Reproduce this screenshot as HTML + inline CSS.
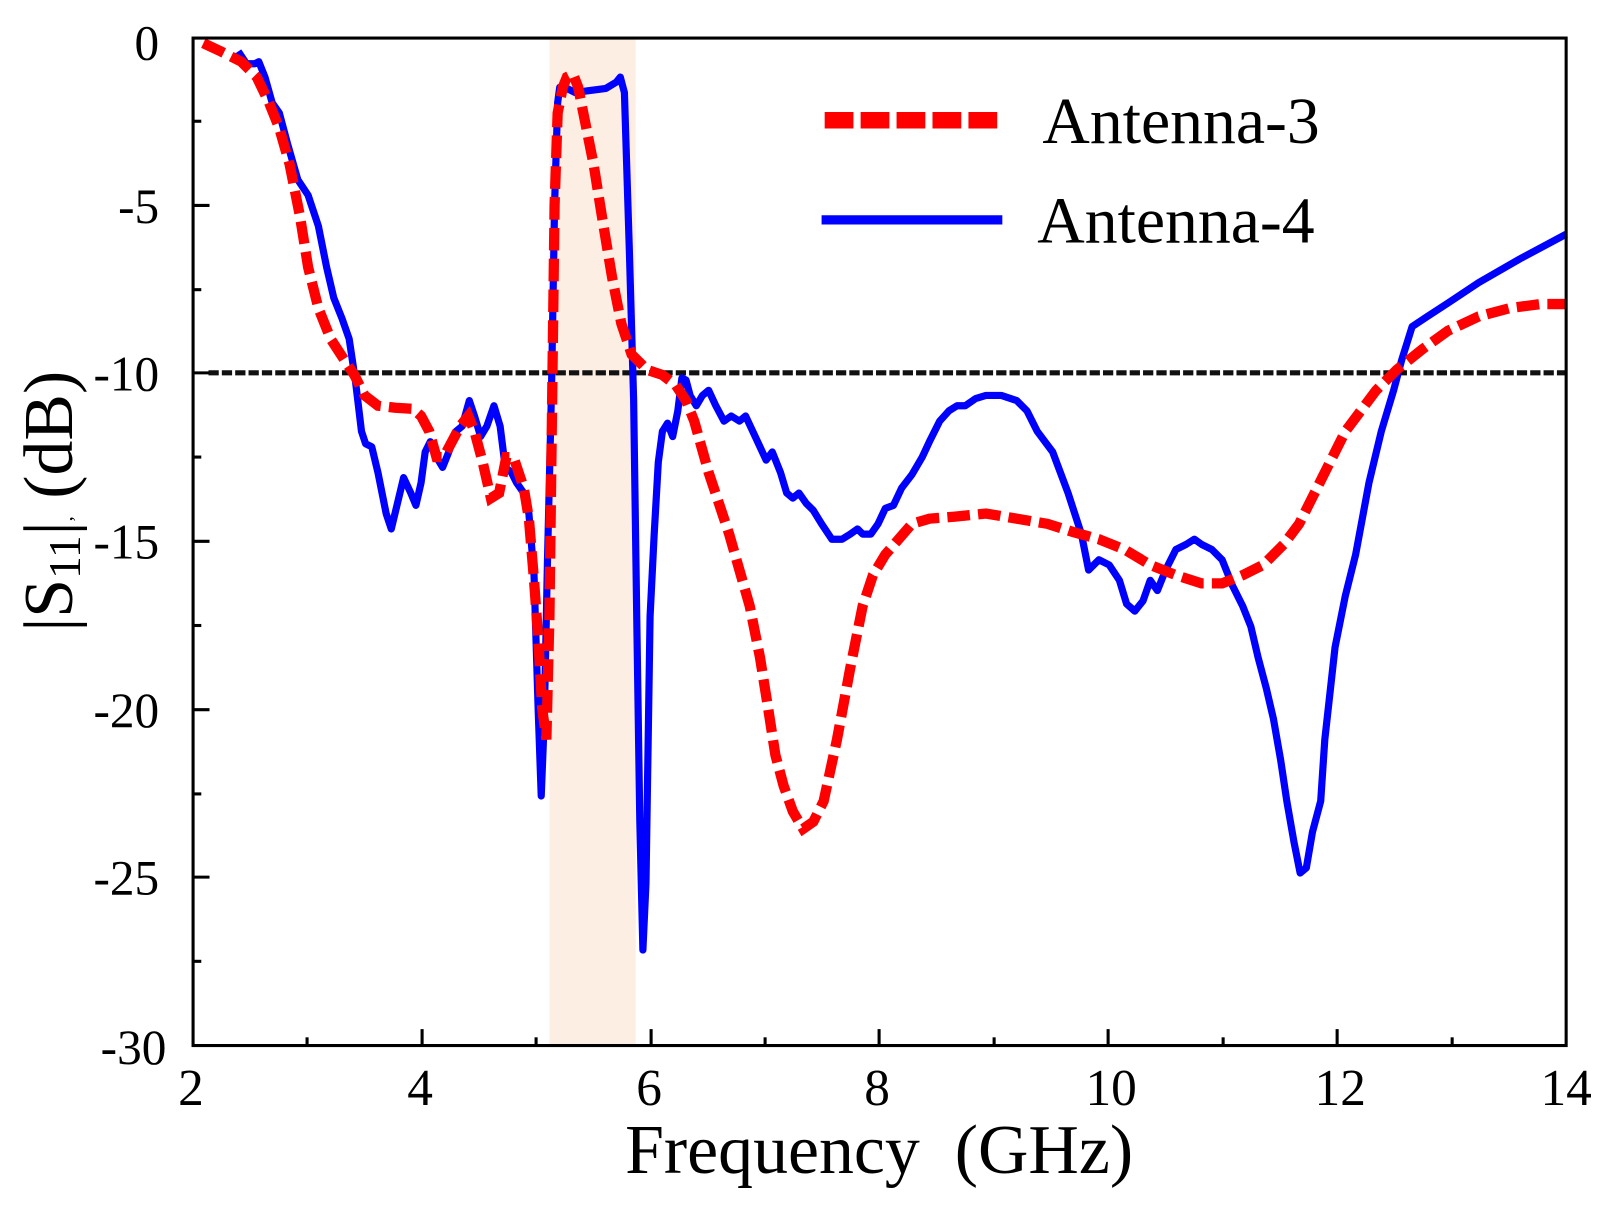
<!DOCTYPE html>
<html><head><meta charset="utf-8"><style>html,body{margin:0;padding:0;background:#fff;}svg{display:block}</style></head>
<body>
<svg width="1610" height="1213" viewBox="0 0 1567.7 1181" xmlns="http://www.w3.org/2000/svg" font-family="Liberation Serif, serif">
<rect x="0" y="0" width="1568" height="1181" fill="#fff"/>
<rect x="535" y="37" width="84" height="981" fill="#fdeee3"/>
<line x1="203" y1="363" x2="1525" y2="363" stroke="#111" stroke-width="5" stroke-dasharray="10 3"/>
<g stroke="#000" stroke-width="3">
<line x1="188" y1="118" x2="196" y2="118"/><line x1="188" y1="200" x2="204" y2="200"/>
<line x1="188" y1="282" x2="196" y2="282"/><line x1="188" y1="363" x2="204" y2="363"/>
<line x1="188" y1="445" x2="196" y2="445"/><line x1="188" y1="527" x2="204" y2="527"/>
<line x1="188" y1="609" x2="196" y2="609"/><line x1="188" y1="691" x2="204" y2="691"/>
<line x1="188" y1="773" x2="196" y2="773"/><line x1="188" y1="854" x2="204" y2="854"/>
<line x1="188" y1="936" x2="196" y2="936"/>
<line x1="299" y1="1018" x2="299" y2="1010"/><line x1="411" y1="1018" x2="411" y2="1002"/>
<line x1="522" y1="1018" x2="522" y2="1010"/><line x1="634" y1="1018" x2="634" y2="1002"/>
<line x1="745" y1="1018" x2="745" y2="1010"/><line x1="856" y1="1018" x2="856" y2="1002"/>
<line x1="968" y1="1018" x2="968" y2="1010"/><line x1="1079" y1="1018" x2="1079" y2="1002"/>
<line x1="1191" y1="1018" x2="1191" y2="1010"/><line x1="1302" y1="1018" x2="1302" y2="1002"/>
<line x1="1414" y1="1018" x2="1414" y2="1010"/>
</g>
<polyline fill="none" stroke="#0000ff" stroke-width="7" stroke-linejoin="round" points="232,50 240,62 248,62 252,60 258,75 265,100 272,110 280,140 290,175 300,190 310,220 318,260 325,290 333,310 340,330 346,370 352,420 356,432 362,435 368,460 376,500 381,515 387,490 393,465 400,480 405,492 410,470 414,440 419,430 425,445 431,455 437,440 444,420 450,415 457,390 462,405 468,425 474,415 481,395 487,415 492,455 498,460 503,470 510,480 515,500 520,560 524,690 527,775 530,700 533,550 537,380 540,200 543,100 545,85 550,85 560,90 575,88 590,86 600,80 604,75 608,90 613,250 617,390 620,600 623,800 626,925 629,860 633,600 637,520 641,450 645,420 650,412 655,425 660,400 664,368 668,370 672,385 678,395 684,385 690,380 697,395 705,410 712,405 720,410 726,405 733,420 740,435 746,448 752,440 760,460 766,480 772,485 778,480 785,490 792,497 800,510 810,525 820,525 828,520 835,515 840,520 848,520 855,510 862,495 870,492 878,475 888,462 898,445 905,430 915,410 924,400 932,395 940,395 950,388 960,385 975,385 990,390 1000,400 1010,420 1025,440 1040,480 1053,520 1060,555 1070,545 1080,550 1090,565 1097,588 1105,595 1113,585 1120,565 1127,575 1135,555 1145,535 1155,530 1163,525 1170,530 1180,535 1190,545 1200,570 1210,590 1218,610 1225,640 1233,670 1240,700 1247,740 1253,780 1260,820 1266,850 1272,845 1278,810 1286,780 1290,720 1300,630 1310,580 1320,540 1333,470 1345,420 1357,380 1365,350 1375,318 1390,308 1410,295 1440,275 1480,252 1525,228"/>
<polyline fill="none" stroke="#ff0000" stroke-width="10" stroke-dasharray="22 8" points="198,42 215,50 235,60 250,75 262,100 272,125 282,160 292,210 300,260 310,300 322,330 335,350 345,365 355,385 368,395 385,397 402,398 410,405 418,420 425,445 432,445 440,430 448,415 456,405 462,420 470,450 478,485 486,480 493,445 500,445 505,460 510,475 515,505 520,565 524,620 528,690 532,720 535,600 538,360 540,200 543,110 548,85 552,75 558,72 563,85 570,120 578,160 586,210 596,270 605,315 615,345 630,360 645,365 658,375 668,390 676,410 683,435 690,460 700,490 710,520 720,555 730,590 740,640 748,690 755,735 763,765 772,790 782,807 792,800 802,780 815,720 828,650 840,590 850,560 862,540 875,525 888,510 905,505 930,503 960,500 990,505 1020,510 1045,518 1070,525 1095,535 1120,550 1145,560 1170,568 1190,568 1210,560 1230,550 1250,530 1265,510 1280,480 1295,450 1310,420 1325,400 1340,380 1360,360 1385,340 1410,322 1440,308 1470,300 1500,296 1525,296"/>
<rect x="188" y="37" width="1337" height="981" fill="none" stroke="#000" stroke-width="3"/>
<g font-size="48" text-anchor="end" fill="#000">
<text x="155" y="58">0</text><text x="155" y="217">-5</text><text x="155" y="380">-10</text>
<text x="155" y="544">-15</text><text x="155" y="708">-20</text><text x="155" y="871">-25</text><text x="162" y="1036">-30</text>
</g>
<g font-size="50" text-anchor="middle" fill="#000">
<text x="186" y="1076">2</text><text x="409" y="1076">4</text><text x="632" y="1076">6</text>
<text x="854" y="1076">8</text><text x="1082" y="1076">10</text><text x="1305" y="1076">12</text><text x="1525" y="1076">14</text>
</g>
<text x="856" y="1142" font-size="68" text-anchor="middle" xml:space="preserve">Frequency  (GHz)</text>
<text transform="translate(70,488) rotate(-90)" font-size="68" text-anchor="middle" xml:space="preserve">|S<tspan font-size="44" dy="8">11</tspan><tspan dy="-8">|</tspan><tspan font-size="20">,</tspan><tspan> (dB)</tspan></text>
<line x1="803" y1="117" x2="975" y2="117" stroke="#ff0000" stroke-width="16" stroke-dasharray="28 7"/>
<text x="1015" y="139" font-size="64">Antenna-3</text>
<line x1="800" y1="214" x2="976" y2="214" stroke="#0000ff" stroke-width="9"/>
<text x="1010" y="236" font-size="64">Antenna-4</text>
</svg>
</body></html>
